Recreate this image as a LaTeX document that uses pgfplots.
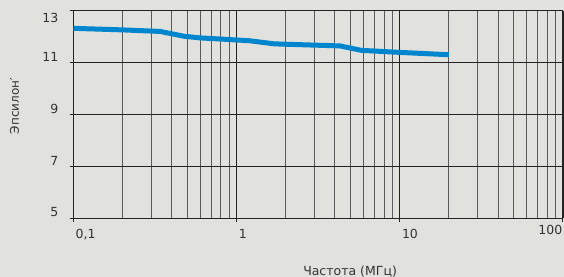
\documentclass[border=0pt]{standalone}
\usepackage{fontspec}
\setmainfont{DejaVu Sans}
\usepackage{pgfplots}
\pgfplotsset{compat=1.18}
\definecolor{bg}{RGB}{225,226,221}
\definecolor{curve}{RGB}{0,134,206}
\definecolor{gmaj}{RGB}{35,35,35}
\definecolor{gmin}{RGB}{90,90,90}
\begin{document}
\begin{tikzpicture}
\fill[bg] (0,0) rectangle (564bp,277bp);
\begin{axis}[
  at={(73.5bp,59bp)}, anchor=south west,
  scale only axis, width=489.5bp, height=207bp,
  xmode=log, log basis x=10,
  xmin=0.1, xmax=100, ymin=5, ymax=13,
  xtick={0.1,1,10,100}, xticklabels={{0,1},1,10,{}},
  minor xtick={0.2,0.3,0.4,0.5,0.6,0.7,0.8,0.9,2,3,4,5,6,7,8,9,20,30,40,50,60,70,80,90},
  extra x ticks={100}, extra x tick labels={100},
  extra x tick style={grid=none, major tick length=0pt, xticklabel style={anchor=north east, xshift=-2.5bp}},
  ytick={5,7,9,11}, yticklabels={5,7,9,11},
  extra y ticks={13}, extra y tick labels={13},
  extra y tick style={grid=none, yticklabel style={yshift=-12.5bp}},
  xtick pos=bottom, ytick pos=left,
  grid=both,
  major grid style={gmaj, line width=0.9bp},
  minor grid style={gmin, line width=0.9bp},
  tick align=outside, major tick length=4bp, minor tick length=0pt,
  axis line style={gmaj, line width=1bp},
  tick style={gmaj, line width=1bp},
  tick label style={font=\fontsize{12.5bp}{15bp}\selectfont, text=black!80},
  /pgf/number format/assume math mode=true,
  xticklabel style={anchor=north west, inner sep=0pt, xshift=2bp, yshift=-7bp},
  yticklabel style={anchor=east, inner sep=0pt, xshift=-11bp, yshift=5.5bp},
  xlabel={Частота (МГц)},
  ylabel={Эпсилон′},
  xlabel style={at={(axis description cs:0.565,-0.258)}, anchor=center, font=\fontsize{12.5bp}{15bp}\selectfont, text=black!80},
  ylabel style={at={(axis description cs:-0.1205,0.541)}, anchor=center, rotate=0, font=\fontsize{12bp}{15bp}\selectfont, text=black!80},
]
\addplot[curve, line width=5bp, line join=round, line cap=butt] coordinates {
  (0.1,12.33) (0.2,12.27) (0.34,12.21) (0.48,12.02) (0.6,11.96)
  (1.0,11.88) (1.2,11.85) (1.7,11.73) (4.3,11.65) (5.8,11.48)
  (10,11.40) (20,11.31)
};
\end{axis}
\pgfresetboundingbox
\path (0,0) rectangle (564bp,277bp);
\end{tikzpicture}
\end{document}
